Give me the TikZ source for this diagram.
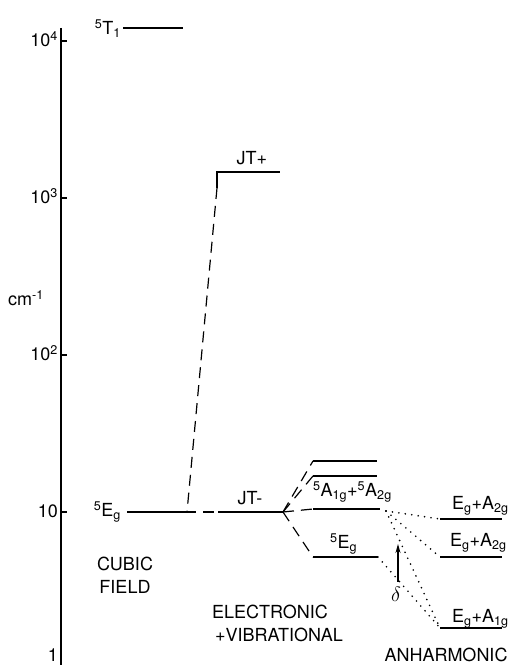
\documentclass[tikz,border=0pt]{standalone}
\usepackage{fontspec}
\setmainfont{TeX Gyre Heros}
\usetikzlibrary{arrows.meta}

\begin{document}
\begin{tikzpicture}[x=1pt, y=1pt,
    level/.style={line width=1.6pt},
    jtline/.style={line width=1.2pt, dash pattern=on 11pt off 7pt},
    anhline/.style={line width=1.8pt, line cap=round, dash pattern=on 0pt off 6.5pt},
    lbl/.style={inner sep=0pt, font=\fontsize{18}{21}\selectfont}]

    \def\decade{157}
    \def\axisX{61}

    \useasboundingbox (0,0) rectangle (512,665);

    % Draw axis
    \draw[line width=1.2pt] (\axisX,637) -- (\axisX,-5);
    \foreach \k in {0,...,4}
        \draw[line width=1.2pt] (\axisX,\k*\decade-4) -- ++(6,0);

    % Label axis
    \foreach \k/\lab in {1/10, 2/10\textsuperscript{2}, 3/10\textsuperscript{3}, 4/10\textsuperscript{4}}
        \node[lbl, anchor=base east] (tick\k) at (\axisX-3,\k*\decade-10) {\lab};
    \node[lbl, anchor=base east] (tick0) at (\axisX-3,4) {1};
    \node[lbl] (unit) at (26,367) {cm\textsuperscript{-1}};

    % Cubic field
    \coordinate (t1a) at (123,637);
    \coordinate (t1b) at (183,637);
    \coordinate (ega) at (127,153);
    \coordinate (egb) at (185,153);

    % Jahn-Teller
    \coordinate (jtpc) at (217,477);
    \coordinate (jtpb) at (280,493);
    \coordinate (jtma) at (218,153);
    \coordinate (fan) at (283,153);
    \coordinate (split) at (187,153);

    % Electronic + vibrational
    \coordinate (v1a) at (313,204); \coordinate (v1b) at (377,204);
    \coordinate (v2a) at (313,189); \coordinate (v2b) at (377,189);
    \coordinate (v3a) at (313,156); \coordinate (v3b) at (380,156);
    \coordinate (v4a) at (313,108); \coordinate (v4b) at (378,108);
    \coordinate (vout) at (386,154);

    % Anharmonic
    \coordinate (r1a) at (440,146); \coordinate (r1b) at (502,146);
    \coordinate (r2a) at (440,108); \coordinate (r2b) at (502,108);
    \coordinate (r3a) at (440,37);  \coordinate (r3b) at (502,37);

    % Draw levels
    \draw[level] (t1a) -- (t1b);
    \draw[level] (jtpc) |- (jtpb);
    \draw[level] (ega) -- (egb);
    \draw[level] (jtma) -- (fan);
    \foreach \n in {v1,v2,v3,v4,r1,r2,r3}
        \draw[level] (\n a) -- (\n b);

    % Draw correlation lines
    \draw[jtline] (egb) -- (jtma);
    \draw[jtline] (jtpc) -- (split);
    \foreach \n in {v1,v2,v3,v4}
        \draw[jtline] (fan) -- (\n a);

    % Anharmonic splitting
    \draw[anhline] (vout) -- (r1a);
    \draw[anhline] (vout) -- (r2a);
    \draw[anhline] (vout) -- (r3a);
    \draw[anhline] (v4b) -- (r3a);

    % Mark delta
    \coordinate (dlow) at (398,83);
    \coordinate (dhigh) at (398,121);
    \draw[line width=1.2pt, -{Stealth[length=9pt,width=5pt]}] (dlow) -- (dhigh);
    \node[lbl, font=\fontsize{22}{24}\selectfont] (delta) at (396,71) {$\delta$};

    % Label levels
    \node[lbl, anchor=base east] (t1lbl) at (121,630) {\textsuperscript{5}T\textsubscript{1}};
    \node[lbl, anchor=base] (jtplbl) at (252,500) {JT+};
    \node[lbl, anchor=base] (jtmlbl) at (250,160) {JT-};
    \node[lbl, anchor=base east] (eglbl) at (121,148) {\textsuperscript{5}E\textsubscript{g}};
    \node[lbl, anchor=base west] (albl) at (313,168) {\textsuperscript{5}A\textsubscript{1g}+\textsuperscript{5}A\textsubscript{2g}};
    \node[lbl, anchor=base west] (v4lbl) at (330,116) {\textsuperscript{5}E\textsubscript{g}};
    \node[lbl, anchor=base west] (r1lbl) at (452,155) {E\textsubscript{g}+A\textsubscript{2g}};
    \node[lbl, anchor=base west] (r2lbl) at (450,118) {E\textsubscript{g}+A\textsubscript{2g}};
    \node[lbl, anchor=base west] (r3lbl) at (452,42) {E\textsubscript{g}+A\textsubscript{1g}};

    % Captions
    \node[lbl, align=center, anchor=north, font=\fontsize{18}{23}\selectfont] (cubic) at (125,108) {CUBIC\\FIELD};
    \node[lbl, align=left, anchor=north west, font=\fontsize{18}{23}\selectfont] (elvib) at (212,60) {ELECTRONIC\\\hspace{3pt}+VIBRATIONAL};
    \node[lbl, anchor=base] (anh) at (446,3) {ANHARMONIC};

\end{tikzpicture}
\end{document}
